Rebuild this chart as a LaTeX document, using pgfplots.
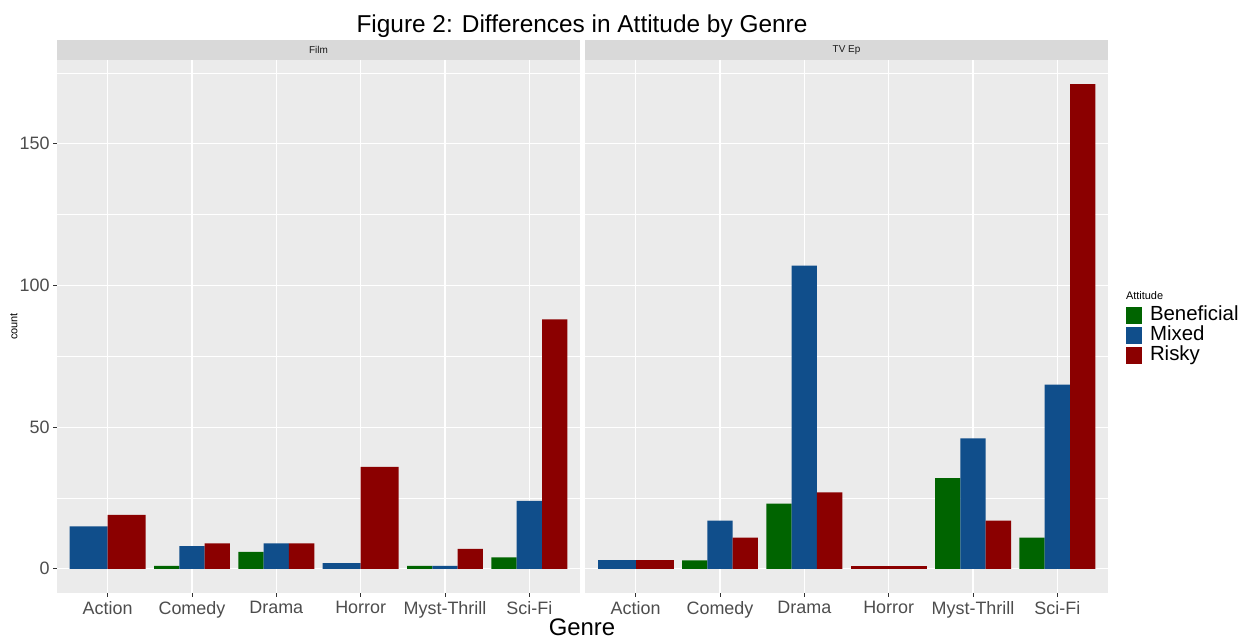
\documentclass[border=0pt]{standalone}
\usepackage{fontspec}
\setmainfont{Liberation Sans}
\usepackage{pgfplots}
\pgfplotsset{compat=1.18}
\definecolor{cBen}{HTML}{006400}
\definecolor{cMix}{HTML}{104E8B}
\definecolor{cRis}{HTML}{8B0000}
\definecolor{panelgray}{HTML}{EBEBEB}
\definecolor{stripgray}{HTML}{D9D9D9}
\definecolor{tickgray}{HTML}{4D4D4D}
\definecolor{tickline}{HTML}{333333}
\pgfplotsset{
  facet/.style={
    scale only axis, width=523bp, height=533bp, anchor=south west,
    xmin=0.4, xmax=6.6, ymin=-8.55, ymax=179.55,
    axis background/.style={fill=panelgray},
    axis line style={draw=none},
    xtick={1,2,3,4,5,6},
    xticklabels={Action,Comedy,Drama,Horror,Myst-Thrill,Sci-Fi},
    ytick={0,50,100,150},
    minor ytick={25,75,125,175},
    grid=both,
    major grid style={white, line width=1.1bp},
    minor grid style={white, line width=0.55bp},
    tick pos=left, tick align=outside,
    major tick length=4bp, minor tick length=0bp,
    tick style={tickline, line width=0.8bp},
    /pgf/number format/assume math mode=true,
    ticklabel style={font=\fontsize{18}{20}\selectfont, text=tickgray},
    xticklabel style={anchor=north, yshift=-0.5bp},
    bar shift=0pt,
  },
}
\begin{document}
\begin{tikzpicture}
\useasboundingbox (0,0) rectangle (1254bp,641bp);
% Film panel
\begin{axis}[facet, name=film, at={(57bp,48bp)}]
\addplot[ybar, bar width=0.3, fill=cBen, draw=none, forget plot] coordinates {(1.7,1) (2.7,6) (4.7,1) (5.7,4)};
\addplot[ybar, bar width=0.3, fill=cMix, draw=none, forget plot] coordinates {(2,8) (3,9) (5,1) (6,24)};
\addplot[ybar, bar width=0.3, fill=cRis, draw=none, forget plot] coordinates {(2.3,9) (3.3,9) (5.3,7) (6.3,88)};
\addplot[ybar, bar width=0.45, fill=cMix, draw=none, forget plot] coordinates {(0.775,15) (3.775,2)};
\addplot[ybar, bar width=0.45, fill=cRis, draw=none, forget plot] coordinates {(1.225,19) (4.225,36)};
\end{axis}
% TV Ep panel
\begin{axis}[facet, name=tv, at={(585bp,48bp)},
  yticklabels={}, ytick style={draw=none},
  legend cell align=left,
  legend style={draw=none, fill=none, at={(1.0344,0.576)}, anchor=north west,
    inner sep=0pt, outer sep=0pt, row sep=0pt, column sep=8bp,
    font=\fontsize{20.5}{22}\selectfont,
    nodes={inner sep=0pt, text height=15bp, text depth=5bp}},
  legend image code/.code={\fill[#1, draw=none] (0bp,-8.5bp) rectangle (16bp,8.5bp);},
]
\addplot[ybar, bar width=0.3, fill=cBen, draw=none, forget plot] coordinates {(1.7,3) (2.7,23) (4.7,32) (5.7,11)};
\addplot[ybar, bar width=0.3, fill=cMix, draw=none, forget plot] coordinates {(2,17) (3,107) (5,46) (6,65)};
\addplot[ybar, bar width=0.3, fill=cRis, draw=none, forget plot] coordinates {(2.3,11) (3.3,27) (5.3,17) (6.3,171)};
\addplot[ybar, bar width=0.45, fill=cMix, draw=none, forget plot] coordinates {(0.775,3)};
\addplot[ybar, bar width=0.45, fill=cRis, draw=none, forget plot] coordinates {(1.225,3)};
\addplot[ybar, bar width=0.9, fill=cRis, draw=none, forget plot] coordinates {(4,1)};
\addlegendimage{empty legend}
\addlegendentry{\hspace{-24bp}\raisebox{1.5bp}{\fontsize{11}{12}\selectfont Attitude}}
\addlegendimage{fill=cBen, draw=none}
\addlegendentry{Beneficial}
\addlegendimage{fill=cMix, draw=none}
\addlegendentry{Mixed}
\addlegendimage{fill=cRis, draw=none}
\addlegendentry{Risky}
\end{axis}
% facet strips
\fill[stripgray] (film.north west) rectangle ([yshift=19.5bp]film.north east);
\fill[stripgray] (tv.north west) rectangle ([yshift=19.5bp]tv.north east);
\node[font=\fontsize{10}{12}\selectfont, text=black!90] at ([yshift=9.75bp]film.north) {Film};
\node[font=\fontsize{10}{12}\selectfont, text=black!90] at ([yshift=9.75bp]tv.north) {TV Ep};
% titles
\node[anchor=base, font=\fontsize{24.5}{28}\selectfont] at (582bp,608bp) {Figure 2: Differences in Attitude by Genre};
\node[anchor=base, font=\fontsize{24}{28}\selectfont] at (582bp,6bp) {Genre};
\node[rotate=90, font=\fontsize{11}{13}\selectfont] at (14bp,314.5bp) {count};
\end{tikzpicture}
\end{document}
